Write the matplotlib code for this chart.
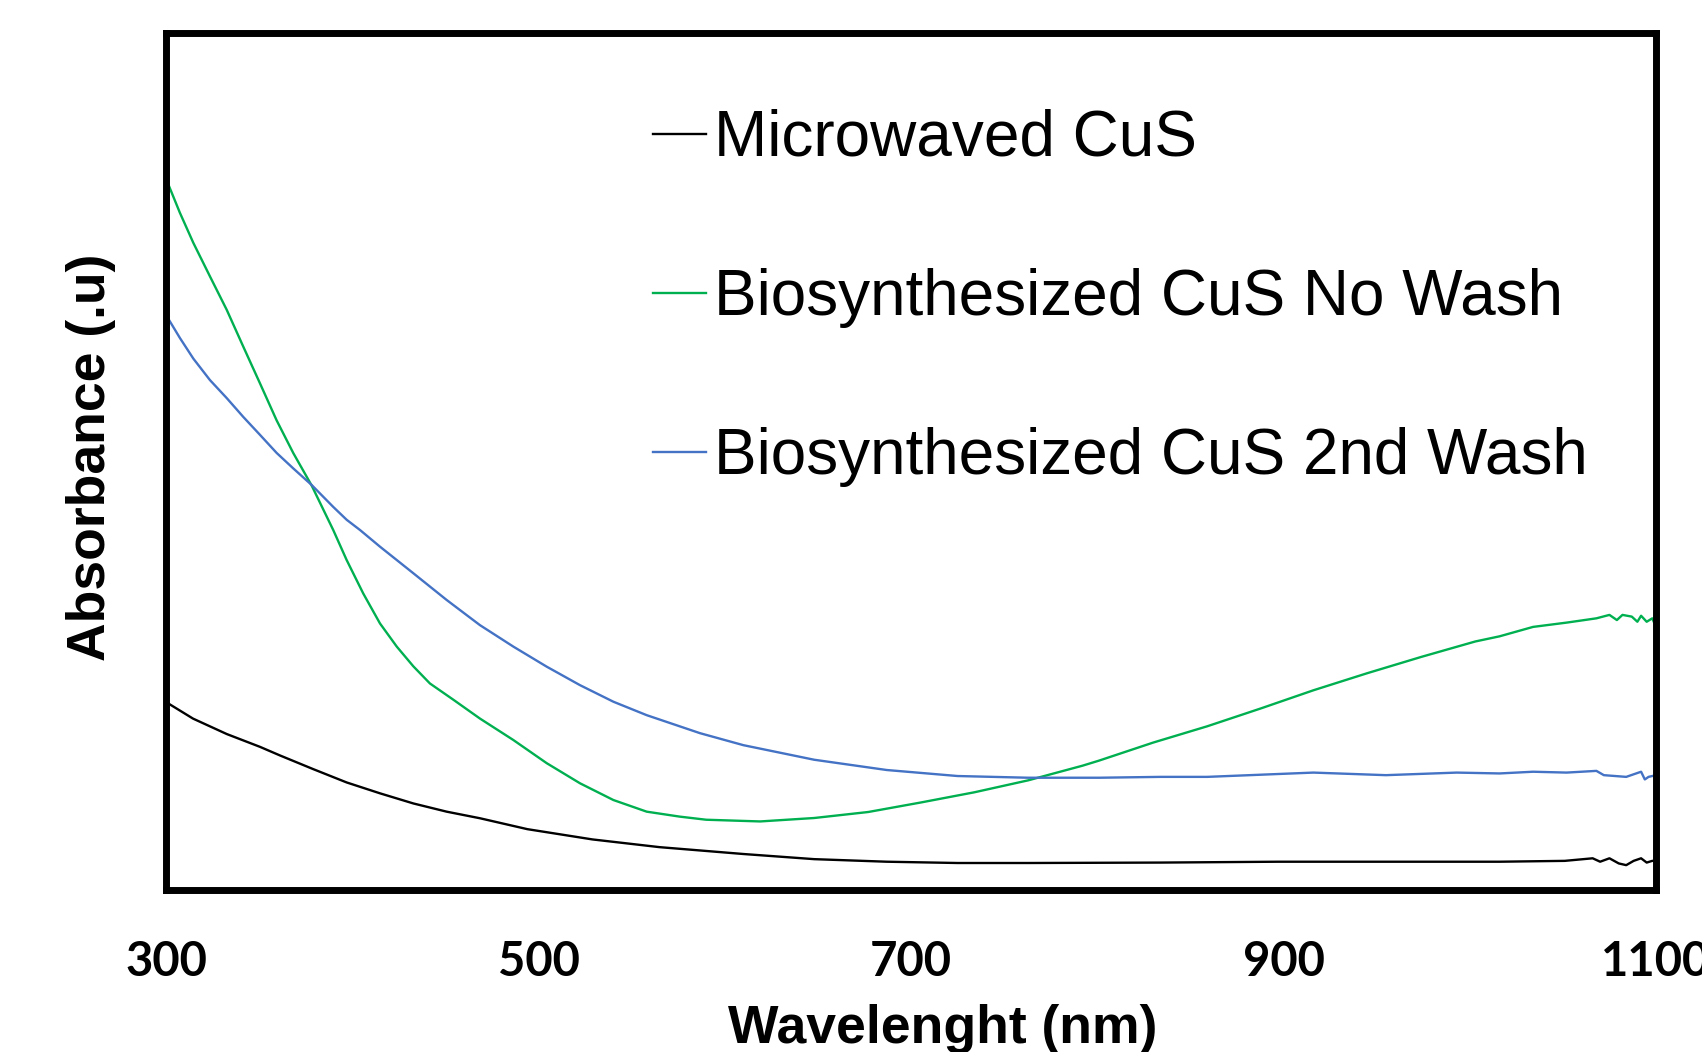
import numpy as np
import matplotlib
matplotlib.use("Agg")
import matplotlib.pyplot as plt

# ─── Data (absorbance in arbitrary units) ────────────────────────────────────

wl_micro = [301, 314.5, 332.6, 350.5, 361.2, 379.1, 397, 414.9, 432.8, 450.7,
            468.6, 494, 529, 565, 610, 648, 687, 725, 763, 834, 897, 993,
            1016, 1051, 1066, 1070, 1075, 1080, 1084, 1088, 1092, 1095, 1098, 1100]
abs_micro = [0.218, 0.200, 0.182, 0.167, 0.157, 0.141, 0.1255, 0.1128, 0.101,
             0.0914, 0.0837, 0.071, 0.059, 0.050, 0.042, 0.036, 0.033,
             0.0315, 0.0315, 0.032, 0.033, 0.033, 0.033, 0.034, 0.037, 0.033,
             0.037, 0.031, 0.029, 0.034, 0.037, 0.032, 0.034, 0.034]

wl_nowash = [300, 307.5, 314.7, 323.6, 332.6, 341.5, 350.5, 359.4, 368.3, 378.2,
             389.8, 397, 405.9, 414.9, 423.9, 432.8, 441.7, 454.3, 468.6, 486.5,
             504.4, 522.3, 540.2, 558.1, 575.9, 590, 619, 648, 677, 705, 734, 763,
             792, 801, 830, 859, 888, 916, 945, 974, 1003, 1016, 1034, 1052, 1068,
             1075, 1079, 1082, 1087, 1090, 1092, 1095, 1098, 1100]
abs_nowash = [0.830, 0.790, 0.755, 0.716, 0.677, 0.634, 0.591, 0.548, 0.510,
              0.472, 0.420, 0.385, 0.346, 0.311, 0.284, 0.261, 0.241, 0.222,
              0.200, 0.175, 0.148, 0.1245, 0.105, 0.0914, 0.0856, 0.082, 0.080,
              0.084, 0.091, 0.102, 0.114, 0.128, 0.145, 0.151, 0.172, 0.191,
              0.212, 0.233, 0.253, 0.272, 0.290, 0.296, 0.307, 0.312, 0.317,
              0.321, 0.315, 0.321, 0.319, 0.313, 0.320, 0.313, 0.317, 0.307]

wl_wash2 = [300, 307.5, 314.7, 323.6, 332.6, 341.5, 350.5, 359.4, 368.3, 378.2,
            389.8, 397, 404.2, 414.9, 432.8, 450.7, 468.6, 486.5, 504.4, 522.3,
            540.2, 558.1, 586.7, 610, 648, 687, 725, 763, 801, 834, 859, 916, 955,
            993, 1016, 1034, 1052, 1068, 1072, 1084, 1092, 1094, 1096, 1100]
abs_wash2 = [0.671, 0.644, 0.620, 0.595, 0.574, 0.552, 0.531, 0.510, 0.492,
             0.4726, 0.447, 0.432, 0.420, 0.4006, 0.3696, 0.3384, 0.309, 0.284,
             0.2606, 0.239, 0.2197, 0.204, 0.183, 0.169, 0.152, 0.140, 0.133,
             0.131, 0.131, 0.132, 0.132, 0.137, 0.134, 0.137, 0.136, 0.138,
             0.137, 0.139, 0.134, 0.132, 0.138, 0.129, 0.132, 0.134]

labels = ["Microwaved CuS", "Biosynthesized CuS No Wash", "Biosynthesized CuS 2nd Wash"]
colors = ["#000000", "#00B050", "#4472C4"]
xticks = [300, 500, 700, 900, 1100]

# ─── Figure ──────────────────────────────────────────────────────────────────

W, H = 1702, 1052
fig = plt.figure(figsize=(W / 100, H / 100), dpi=100)
ax = fig.add_axes([166 / W, (H - 890) / H, 1490 / W, 857 / H])

series = [(wl_micro, abs_micro), (wl_nowash, abs_nowash), (wl_wash2, abs_wash2)]
for (x, y), lab, c in zip(series, labels, colors):
    ax.plot(x, y, color=c, linewidth=1.7, label=lab)

ax.set_xlim(300, 1100)
ax.set_ylim(0, 1)
ax.set_xticks(xticks)
ax.set_xticklabels([str(t) for t in xticks], fontfamily="Lato",
                   fontweight="bold", fontsize=34)
ax.set_yticks([])
ax.tick_params(axis="x", length=0, pad=36)
for sp in ax.spines.values():
    sp.set_linewidth(5)
    sp.set_color("black")

ax.set_xlabel("Wavelenght (nm)", fontfamily="Liberation Sans",
              fontweight="bold", fontsize=38.5)
ax.xaxis.set_label_coords((943 - 166) / 1490, (890 - 1043) / 857)
ax.xaxis.label.set_va("baseline")

ax.set_ylabel("Absorbance (.u)", fontfamily="Liberation Sans",
              fontweight="bold", fontsize=38.5)
ax.yaxis.set_label_coords((91 - 166) / 1490, (890 - 457) / 857)
ax.yaxis.label.set_va("center")

leg = ax.legend(loc="upper left", bbox_to_anchor=(653 / W, (H - 109) / H),
                bbox_transform=fig.transFigure, frameon=False,
                prop={"family": "Liberation Sans", "size": 46},
                handlelength=0.83, handletextpad=0.12, labelspacing=1.55,
                borderpad=0, borderaxespad=0)
for line in leg.get_lines():
    line.set_linewidth(1.7)

fig.savefig("out.png", dpi=100)
